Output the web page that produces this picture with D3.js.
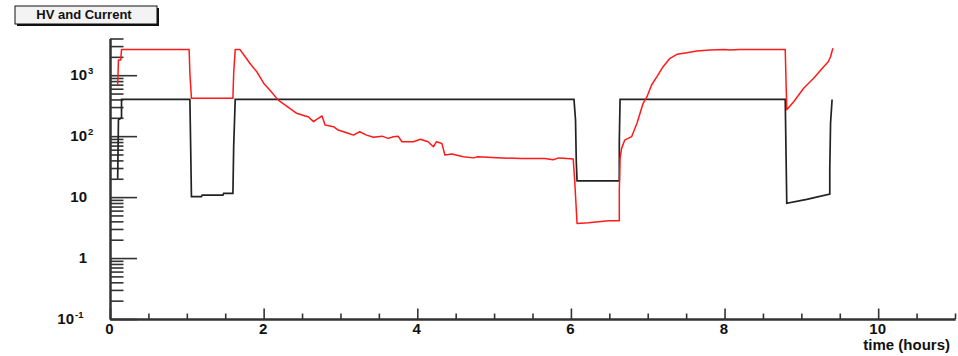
<!DOCTYPE html>
<html>
<head>
<meta charset="utf-8">
<script src="https://cdn.jsdelivr.net/npm/d3@7"></script>
<style>
  body { margin: 0; background: #fff; }
  svg { display: block; }
  text { font-family: "Liberation Sans", Arial, Helvetica, sans-serif; font-weight: bold; fill: #111; }
</style>
</head>
<body>
<svg id="chart" width="958" height="356"></svg>
<script>
// HV (black) and current (red) readings over time, log scale
const hvTime  = [0.10, 0.11, 0.15, 0.15, 1.04, 1.05, 1.06, 1.19, 1.20, 1.47, 1.48, 1.60, 1.61, 1.63,
                 6.04, 6.06, 6.07, 6.08, 6.63, 6.63, 6.64, 8.79, 8.80, 8.81, 9.07, 9.37, 9.37, 9.38, 9.40];
const hvValue = [20, 185, 200, 400, 400, 67, 10.2, 10.2, 10.8, 10.8, 11.5, 11.5, 67, 400,
                 400, 184, 38, 18.4, 18.4, 81, 400, 400, 56, 7.9, 9.2, 11.2, 28, 163, 400];

const curTime  = [0.10, 0.11, 0.14, 0.15, 1.03, 1.04, 1.06, 1.60, 1.61, 1.63, 1.69,
                  1.76, 1.82, 1.91, 2.00, 2.08, 2.19, 2.30, 2.43, 2.54, 2.58,
                  2.65, 2.71, 2.76, 2.80, 2.91, 2.97, 3.08, 3.17, 3.25, 3.34,
                  3.43, 3.54, 3.62, 3.69, 3.75, 3.80, 3.95, 4.04, 4.14, 4.21,
                  4.25, 4.32, 4.36, 4.45, 4.60, 4.73, 4.79, 5.10, 5.35, 5.60,
                  5.66, 5.77, 5.84, 5.95, 6.03, 6.05, 6.08, 6.23, 6.49, 6.63,
                  6.63, 6.64, 6.66, 6.70, 6.79, 6.86, 6.90, 6.94, 6.99, 7.05,
                  7.12, 7.20, 7.29, 7.38, 7.51, 7.64, 7.81, 8.00, 8.07, 8.20,
                  8.79, 8.80, 8.81, 8.90, 9.03, 9.16, 9.29, 9.35, 9.38, 9.41];
const curValue = [690, 1780, 1780, 2650, 2650, 1070, 420, 420, 1070, 2650, 2650,
                  2010, 1570, 1140, 740, 570, 390, 312, 237, 214, 208,
                  173, 196, 214, 152, 143, 126, 114, 104, 118, 104,
                  96, 100, 92, 98, 100, 81, 81, 89, 81, 67,
                  81, 76, 49, 51, 46, 44, 46, 44, 43, 43,
                  43, 41, 44, 43, 42, 18, 3.7, 3.8, 4.1, 4.1,
                  13, 43, 63, 86, 98, 163, 237, 346, 444, 690,
                  945, 1380, 1890, 2200, 2340, 2500, 2590, 2650, 2590, 2650,
                  2650, 830, 270, 367, 610, 890, 1380, 1660, 2010, 2760];

const xMajorTicks = [0, 2, 4, 6, 8, 10];
const yMajorTicks = [0.1, 1, 10, 100, 1000];
const yLabelBase  = ["10", "1", "10", "10", "10"];
const yLabelExp   = ["-1", "", "", "2", "3"];
const chartTitle  = "HV and Current";
const xAxisTitle  = "time (hours)";

const svg = d3.select("#chart");
const x = d3.scaleLinear().domain([0, 11]).range([110, 955]);
const y = d3.scaleLog().domain([0.1, 4000]).range([319, 38.5]);

// minor ticks: every half hour on x, 2..9 per decade on y
const xMinorTicks = d3.range(0, 11.01, 0.5).filter(v => !xMajorTicks.includes(v));
const yMinorTicks = [];
yMajorTicks.forEach(d => { for (let k = 2; k <= 9; k++) if (d * k <= 4000) yMinorTicks.push(d * k); });

const axisColor = "#333";
function styleAxis(g) {
  g.selectAll(".domain").attr("stroke", axisColor).attr("stroke-width", 2);
  g.selectAll(".tick line").attr("stroke", axisColor).attr("stroke-width", 1.6);
}

// x axis
const gxMinor = svg.append("g").attr("transform", "translate(0,319)")
  .call(d3.axisBottom(x).tickValues(xMinorTicks).tickSize(-5.5).tickSizeOuter(0).tickFormat(""));
const gx = svg.append("g").attr("transform", "translate(0,319)")
  .call(d3.axisBottom(x).tickValues(xMajorTicks).tickSize(-10.5).tickSizeOuter(0).tickPadding(4)
          .tickFormat(d3.format("d")));
styleAxis(gxMinor); styleAxis(gx);
gx.selectAll(".tick text").attr("font-size", 15).attr("font-family", null).attr("fill", "#111")
  .attr("dx", -1);

// y axis
const gyMinor = svg.append("g").attr("transform", "translate(110,0)")
  .call(d3.axisLeft(y).tickValues(yMinorTicks).tickSize(-13.5).tickSizeOuter(0).tickFormat(""));
const gy = svg.append("g").attr("transform", "translate(110,0)")
  .call(d3.axisLeft(y).tickValues(yMajorTicks).tickSize(-27).tickSizeOuter(0).tickFormat(""));
styleAxis(gyMinor); styleAxis(gy);

// y tick labels written as powers of ten
yMajorTicks.forEach((v, i) => {
  const neg = yLabelExp[i].startsWith("-");
  const baseEnd = neg ? 74 : 87;
  svg.append("text")
    .attr("x", baseEnd).attr("y", y(v)).attr("dy", "0.33em")
    .attr("text-anchor", "end").attr("font-size", 15)
    .text(yLabelBase[i]);
  if (yLabelExp[i]) {
    svg.append("text")
      .attr("x", baseEnd + 1).attr("y", y(v) - 1.5)
      .attr("text-anchor", "start").attr("font-size", 9.5)
      .text(yLabelExp[i]);
  }
});

// axis title
svg.append("text").attr("x", 950).attr("y", 350)
  .attr("text-anchor", "end").attr("font-size", 15).text(xAxisTitle);

// series
const hvData = hvTime.map((t, i) => [t, hvValue[i]]);
const curData = curTime.map((t, i) => [t, curValue[i]]);
const line = d3.line().x(d => x(d[0])).y(d => y(d[1]));

svg.append("path").datum(hvData)
  .attr("d", line).attr("fill", "none")
  .attr("stroke", "#222").attr("stroke-width", 1.7).attr("stroke-linejoin", "miter");
svg.append("path").datum(curData)
  .attr("d", line).attr("fill", "none")
  .attr("stroke", "#ff1a1a").attr("stroke-width", 1.5).attr("stroke-linejoin", "round");

// title box with drop shadow
const tb = svg.append("g");
tb.append("rect").attr("x", 17).attr("y", 8).attr("width", 142).attr("height", 18).attr("fill", "#111");
tb.append("rect").attr("x", 15).attr("y", 6).attr("width", 142).attr("height", 18)
  .attr("fill", "#f3f3f3").attr("stroke", "#111").attr("stroke-width", 1);
tb.append("text").attr("x", 84).attr("y", 18.5).attr("text-anchor", "middle")
  .attr("font-size", 13).text(chartTitle);
</script>
</body>
</html>
